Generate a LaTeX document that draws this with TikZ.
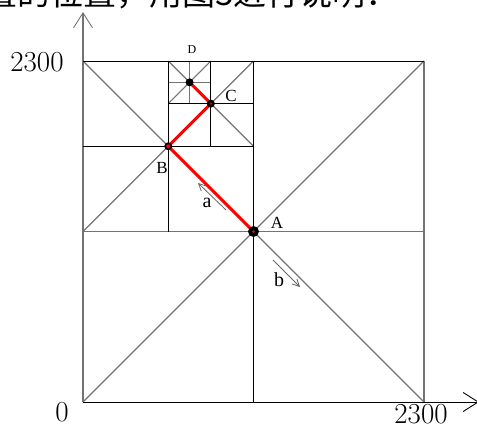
\documentclass[tikz,border=0pt]{standalone}
\usepackage{fontspec}
\newfontfamily\cjkfont{Noto Sans CJK SC}
\newfontfamily\lserif{Liberation Serif}
\usetikzlibrary{arrows.meta}
\begin{document}
\begin{tikzpicture}[x=1pt,y=-1pt,
  blk/.style={black,line width=0.9pt},
  gry/.style={black!55,line width=1.1pt},
  axistip/.style={-{Straight Barb[length=15pt,width=19pt,line width=0.9pt]}},
  smalltip/.style={black!60,line width=0.8pt,-{Straight Barb[length=7pt,width=7pt]}},
  num/.style={font=\fontsize{29}{29}\selectfont,inner sep=0pt},
  lab/.style={font=\lserif\fontsize{17}{17}\selectfont,inner sep=0pt},
  redpath/.style={red,line width=3pt,line join=round,line cap=round},
  dot/.style={circle,fill=black,inner sep=0pt,minimum size=8pt}]
\useasboundingbox (0,0) rectangle (477,426);
\clip (0,0) rectangle (477,426);
% key points
\coordinate (O) at (83,402);
\coordinate (TL) at (83,61);
\coordinate (TR) at (424,61);
\coordinate (BR) at (424,402);
\coordinate (A) at (253.5,231.5);
\coordinate (B) at (168.25,146.25);
\coordinate (C) at (210.875,103.625);
\coordinate (D) at (189.5625,82.3125);
\coordinate (Tm) at (253.5,61);
\coordinate (Bm) at (253.5,402);
\coordinate (Lm) at (83,231.5);
\coordinate (Rm) at (424,231.5);
\coordinate (Tq) at (168.25,61);
\coordinate (Lq) at (83,146.25);
\coordinate (Bq) at (168.25,231.5);
\coordinate (Rq) at (253.5,146.25);
\coordinate (Ts) at (210.875,61);
\coordinate (Ls) at (168.25,103.625);
\coordinate (Rs) at (253.5,103.625);
\coordinate (Bs) at (210.875,146.25);
\coordinate (Tt) at (189.5625,61);
\coordinate (Lt) at (168.25,82.3125);
\coordinate (Rt) at (210.875,82.3125);
\coordinate (Bt) at (189.5625,103.625);
\coordinate (Yend) at (83,12);
\coordinate (Xend) at (479,402);
% caption line (cut off at top)
\node[anchor=base west,font=\cjkfont\fontsize{33}{33}\selectfont,inner sep=0pt] (txt) at (-16,5) {置的位置，用图3进行说明：};
% gray lines
\draw[gry,axistip] (O) -- (Yend);
\draw[gry] (TR) -- (BR);
\draw[gry] (Lm) -- (Rm);
\draw[gry] (TL) -- (BR);
\draw[gry] (O) -- (TR);
\draw[gry] (Lm) -- (Tm);
\draw[gry] (Tq) -- (Rq);
\draw[gry] (Tt) -- (Bt);
\draw[gry] (Lt) -- (Rt);
\draw[gry] (Ls) -- (Ts);
% black lines
\draw[blk,axistip] (O) -- (Xend);
\draw[blk] (TL) -- (TR);
\draw[blk] (Tm) -- (Bm);
\draw[blk] (Tq) -- (Bq);
\draw[blk] (Lq) -- (Rq);
\draw[blk] (Ts) -- (Bs);
\draw[blk] (Ls) -- (Rs);
% red path
\draw[redpath] (A) -- (B) -- (C) -- (D);
\node[dot,minimum size=11pt] (dA) at (A) {};
\node[dot] (dB) at (B) {};
\node[dot] (dC) at (C) {};
\node[dot] (dD) at (D) {};
\fill[red] (A) circle (1.5pt) (B) circle (2pt) (C) circle (1.2pt);
% small arrows
\coordinate (a1) at (226,210);
\coordinate (a2) at (198,183);
\coordinate (b1) at (273,260);
\coordinate (b2) at (300,287);
\draw[smalltip] (a1) -- (a2);
\draw[smalltip] (b1) -- (b2);
% labels
\node[num] (n2300y) at (37,62) {2300};
\node[num] (n0) at (62,412) {0};
\node[num] (n2300x) at (421,414) {2300};
\node[lab] (lA) at (277,223) {A};
\node[lab] (lB) at (162,168) {B};
\node[lab] (lC) at (231,96) {C};
\node[lab,font=\lserif\fontsize{12}{12}\selectfont] (lD) at (192,50) {D};
\node[lab,font=\lserif\fontsize{20}{20}\selectfont] (la) at (207,203) {a};
\node[lab,font=\lserif\fontsize{20}{20}\selectfont] (lb) at (279,280) {b};
\end{tikzpicture}
\end{document}
